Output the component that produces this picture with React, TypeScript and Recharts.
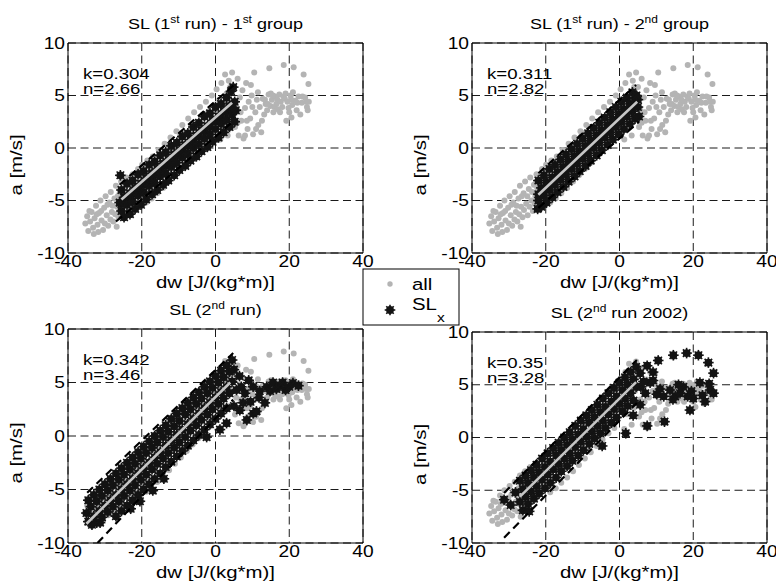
import React from 'react';
import { ScatterChart, Scatter, XAxis, YAxis, CartesianGrid, ReferenceArea } from 'recharts';

const FONT = '"Liberation Sans", Arial, Helvetica, sans-serif';
const GRAY = '#b4b4b4';
const FIT = '#c6c6c6';
const STAR = '#141414';
const SX = 1.2; // the figure text is drawn wide

const xTicks = [-40, -20, 0, 20, 40];
const yTicks = [-10, -5, 0, 5, 10];

// "all" points, identical in the four panels
const allPoints = [
  [-35.3, -7.2], [-34.8, -6.5], [-34.5, -7.9], [-34.0, -7.0], [-33.6, -6.1], [-33.2, -7.6], [-32.8, -6.7],
  [-32.4, -5.5], [-32.0, -7.3], [-31.6, -6.2], [-31.8, -8.0], [-31.2, -5.0], [-30.9, -6.9], [-30.5, -7.8],
  [-30.2, -5.7], [-29.8, -4.6], [-29.5, -6.4], [-29.1, -7.4], [-28.8, -5.2], [-28.4, -4.2], [-28.1, -6.1],
  [-27.7, -7.0], [-27.4, -4.8], [-27.0, -3.6], [-26.8, -7.5], [-26.7, -5.6], [-26.3, -6.6], [-26.0, -4.3],
  [-25.6, -3.2], [-25.3, -5.3], [-24.9, -6.4], [-24.6, -3.9], [-24.2, -2.8], [-23.9, -5.0], [-23.5, -6.0],
  [-23.2, -3.5], [-22.8, -4.6], [-22.5, -2.5], [-22.1, -5.5], [-21.8, -3.2], [-21.4, -4.2], [-21.0, -2.0],
  [-20.7, -5.1], [-20.3, -3.0],
  [-34.2, -6.0], [-33.0, -8.2], [-32.2, -6.3], [-31.0, -6.0], [-30.0, -7.2], [-29.3, -5.4], [-28.5, -6.8],
  [-27.9, -5.5], [-27.2, -6.3], [-26.5, -4.6], [-25.9, -5.9], [-25.0, -4.6], [-24.4, -5.6], [-23.7, -4.2],
  [-23.0, -5.3], [-22.3, -3.8], [-21.6, -5.0], [-21.2, -2.8], [-20.5, -4.0], [-20.0, -2.4],
  [-19.9, -1.6], [-19.5, -4.6], [-19.2, -2.7], [-18.8, -5.2], [-18.5, -1.2], [-18.1, -3.9], [-17.7, -2.3],
  [-17.3, -4.8], [-17.0, -0.8], [-16.6, -3.2], [-16.2, -1.6], [-15.8, -4.3], [-15.4, -0.2], [-15.0, -2.7],
  [-14.6, -1.0], [-14.2, -3.8], [-13.8, 0.4], [-13.4, -2.0], [-13.0, -0.4], [-12.6, -3.2], [-12.2, 1.0],
  [-11.8, -1.4], [-11.4, 0.2], [-11.0, -2.6], [-10.6, 1.6], [-10.2, -0.8], [-9.8, 0.8], [-9.4, -2.0],
  [-9.0, 2.2], [-8.6, -0.2], [-8.2, 1.4], [-7.8, -1.4], [-7.4, 2.8], [-7.0, 0.4], [-6.6, 2.0], [-6.2, -0.8],
  [-5.8, 3.4], [-5.4, 1.0], [-5.0, 2.5], [-4.6, -0.2], [-4.2, 3.9], [-3.8, 1.6], [-3.4, 3.0], [-3.0, 0.4],
  [-2.6, 4.4], [-2.2, 2.1], [-1.8, 3.5], [-1.4, 0.9], [-1.0, 5.0], [-0.6, 2.6], [-0.2, 4.0],
  [-19.0, -3.5], [-18.3, -4.5], [-17.5, -1.5], [-16.8, -2.6], [-16.0, -0.9], [-14.8, -1.9], [-13.2, -1.2],
  [-12.0, -0.2], [-10.8, 0.4], [-9.6, 1.4], [-8.4, -1.0], [-7.2, 1.2], [-6.0, 0.8], [-4.8, 1.8], [-3.6, 2.2],
  [-2.4, 3.0], [-1.2, 1.6], [0.0, 3.6], [1.2, 2.4], [2.8, 4.6], [4.0, 5.8],
  [0.3, 5.6], [0.6, 3.0], [1.0, 4.6], [1.3, 0.8], [1.6, 6.2], [2.0, 2.2], [2.3, 3.8], [2.6, 7.0], [3.0, 5.2],
  [3.3, 1.2], [3.6, 6.4], [3.9, 2.8], [4.2, 4.4], [4.5, 7.2], [5.0, 5.8], [5.3, 2.0], [5.6, 3.6], [6.0, 6.6],
  [6.3, 1.2], [6.6, 4.8], [7.0, 2.6], [7.3, 5.5], [7.6, 0.9], [8.0, 3.8], [8.3, 6.2], [8.7, 1.8], [9.0, 4.4],
  [9.4, 2.8], [9.8, 5.0], [10.0, 3.9], [10.2, 1.3], [10.5, 7.2], [10.8, 3.4], [11.2, 4.6], [11.5, 5.3],
  [11.6, 2.2], [12.0, 3.9], [12.4, 1.5], [12.8, 4.7], [13.2, 3.2], [13.6, 4.2], [14.0, 3.6], [14.4, 5.1],
  [14.6, 7.6], [14.9, 4.0], [15.0, 5.2], [15.3, 4.6], [15.7, 3.4], [16.0, 3.9], [16.1, 4.9], [16.5, 4.2],
  [16.9, 3.7], [17.3, 5.1], [17.7, 4.4], [18.1, 3.9], [18.4, 4.9], [18.5, 7.9], [18.8, 4.7], [19.2, 2.6],
  [19.5, 4.4], [20.0, 3.4], [20.4, 5.0], [20.8, 4.1], [21.0, 5.3], [21.2, 7.7], [21.6, 4.5], [22.0, 3.6],
  [22.5, 4.9], [23.0, 3.2], [23.4, 4.3], [23.9, 7.0], [24.3, 4.8], [24.8, 3.9], [25.2, 6.1], [25.3, 4.4],
  [6.8, 3.4], [8.5, 2.6], [9.6, 6.0], [11.0, 1.8], [12.6, 2.6], [13.4, 4.6], [14.2, 4.2], [15.6, 5.0],
  [16.8, 4.6], [17.5, 3.4], [19.0, 5.2], [19.8, 3.8], [20.6, 4.6], [22.2, 4.3], [23.6, 4.9], [24.6, 4.4],
  [25.0, 3.6], [20.6, 2.9], [8.0, 1.2], [6.0, 2.4],
];

// SL_x points, 1st run - 1st group
const slTL = [
  [-25.5, -4.0], [-24, -3.4], [-22.5, -3.1], [-21, -2.5], [-19.5, -2.2], [-18, -1.6], [-16.5, -1.3], [-15, -0.7],
  [-13.5, -0.4], [-12, 0.2], [-10.5, 0.5], [-9, 1.1], [-7.5, 1.4], [-6, 2.0], [-4.5, 2.4], [-3, 3.0], [-1.5, 3.3],
  [0, 3.9], [1.5, 4.2], [3, 4.8], [4.2, 5.4],
  [-24.8, -4.7], [-23.2, -4.3], [-21.8, -3.8], [-20.2, -3.4], [-18.8, -2.9], [-17.2, -2.4], [-15.8, -2.0],
  [-14.2, -1.5], [-12.8, -1.1], [-11.2, -0.6], [-9.8, -0.2], [-8.2, 0.3], [-6.8, 0.8], [-5.2, 1.2], [-3.8, 1.7],
  [-2.2, 2.1], [-0.8, 2.6], [0.8, 3.0], [2.2, 3.5], [3.8, 4.0], [5.2, 4.4],
  [-25.5, -5.3], [-24, -4.9], [-22.5, -4.4], [-21, -3.9], [-19.5, -3.5], [-18, -3.0], [-16.5, -2.6], [-15, -2.1],
  [-13.5, -1.7], [-12, -1.2], [-10.5, -0.7], [-9, -0.3], [-7.5, 0.2], [-6, 0.6], [-4.5, 1.1], [-3, 1.6],
  [-1.5, 2.0], [0, 2.5], [1.5, 2.9], [3, 3.4], [4.5, 3.8],
  [-25.5, -6.0], [-24, -5.4], [-22.5, -5.1], [-21, -4.5], [-19.5, -4.2], [-18, -3.6], [-16.5, -3.3], [-15, -2.7],
  [-13.5, -2.4], [-12, -1.8], [-10.5, -1.4], [-9, -0.9], [-7.5, -0.5], [-6, 0.0], [-4.5, 0.4], [-3, 0.9],
  [-1.5, 1.3], [0, 1.8], [1.5, 2.3], [3, 2.7], [4.5, 3.2],
  [-24.8, -6.6], [-23.2, -6.3], [-21.8, -5.8], [-20.2, -5.4], [-18.8, -4.9], [-17.2, -4.4], [-15.8, -4.0],
  [-14.2, -3.5], [-12.8, -3.1], [-11.2, -2.6], [-9.8, -2.1], [-8.2, -1.7], [-6.8, -1.2], [-5.2, -0.8],
  [-3.8, -0.3], [-2.2, 0.1], [-0.8, 0.6], [0.8, 1.0], [2.2, 1.5], [3.8, 2.0], [5.2, 2.5],
  [4.8, 5.8], [5.5, 3.6], [-26.0, -5.2], [-25.8, -2.6],
];

// SL_x points, 1st run - 2nd group
const slTR = [
  [-22, -3.1], [-20.5, -2.6], [-19, -2.0], [-17.5, -1.6], [-16, -1.1], [-14.5, -0.6], [-13, -0.1], [-11.5, 0.4],
  [-10, 0.9], [-8.5, 1.4], [-7, 1.9], [-5.5, 2.4], [-4, 2.9], [-2.5, 3.4], [-1, 3.9], [0.5, 4.4], [2, 4.8], [3.5, 5.3],
  [-21.2, -3.8], [-19.8, -3.3], [-18.2, -2.8], [-16.8, -2.3], [-15.2, -1.8], [-13.8, -1.3], [-12.2, -0.8],
  [-10.8, -0.3], [-9.2, 0.2], [-7.8, 0.7], [-6.2, 1.2], [-4.8, 1.7], [-3.2, 2.2], [-1.8, 2.7], [-0.2, 3.2],
  [1.2, 3.7], [2.8, 4.2], [4.2, 4.7],
  [-22, -4.4], [-20.5, -3.9], [-19, -3.4], [-17.5, -2.9], [-16, -2.4], [-14.5, -1.9], [-13, -1.4], [-11.5, -0.9],
  [-10, -0.4], [-8.5, 0.1], [-7, 0.6], [-5.5, 1.1], [-4, 1.6], [-2.5, 2.1], [-1, 2.6], [0.5, 3.1], [2, 3.6],
  [3.5, 4.1], [5, 4.6],
  [-22, -5.0], [-20.5, -4.5], [-19, -4.0], [-17.5, -3.5], [-16, -3.0], [-14.5, -2.5], [-13, -2.0], [-11.5, -1.5],
  [-10, -1.0], [-8.5, -0.5], [-7, 0.0], [-5.5, 0.5], [-4, 1.0], [-2.5, 1.5], [-1, 2.0], [0.5, 2.5], [2, 3.0],
  [3.5, 3.5], [5, 3.9],
  [-21.2, -5.6], [-19.8, -5.2], [-18.2, -4.7], [-16.8, -4.2], [-15.2, -3.7], [-13.8, -3.2], [-12.2, -2.7],
  [-10.8, -2.2], [-9.2, -1.7], [-7.8, -1.2], [-6.2, -0.7], [-4.8, -0.2], [-3.2, 0.3], [-1.8, 0.8], [-0.2, 1.3],
  [1.2, 1.8], [2.8, 2.3], [4.2, 2.8],
  [-22.2, -5.8], [5.3, 3.0], [4.6, 5.0],
];

// SL_x points, 2nd run
const slBL = [
  [-34.5, -6.0], [-33, -5.5], [-31.5, -5.0], [-30, -4.5], [-28.5, -4.0], [-27, -3.5], [-25.5, -3.0], [-24, -2.5],
  [-22.5, -2.0], [-21, -1.5], [-19.5, -1.0], [-18, -0.5], [-16.5, 0.0], [-15, 0.5], [-13.5, 1.0], [-12, 1.6],
  [-10.5, 2.1], [-9, 2.6], [-7.5, 3.1], [-6, 3.6], [-4.5, 4.1], [-3, 4.6], [-1.5, 5.1], [0, 5.6], [1.5, 6.1],
  [3, 6.6], [4.5, 7.1],
  [-33.8, -6.6], [-32.2, -6.1], [-30.8, -5.6], [-29.2, -5.1], [-27.8, -4.6], [-26.2, -4.1], [-24.8, -3.6],
  [-23.2, -3.1], [-21.8, -2.6], [-20.2, -2.1], [-18.8, -1.6], [-17.2, -1.1], [-15.8, -0.6], [-14.2, -0.1],
  [-12.8, 0.4], [-11.2, 0.9], [-9.8, 1.4], [-8.2, 2.0], [-6.8, 2.5], [-5.2, 3.0], [-3.8, 3.5], [-2.2, 4.0],
  [-0.8, 4.5], [0.8, 5.0], [2.2, 5.5], [3.8, 6.0],
  [-34.5, -8.0], [-33, -7.5], [-31.5, -7.0], [-30, -6.5], [-28.5, -6.0], [-27, -5.5], [-25.5, -5.0], [-24, -4.5],
  [-22.5, -4.0], [-21, -3.5], [-19.5, -3.0], [-18, -2.5], [-16.5, -2.0], [-15, -1.5], [-13.5, -0.9], [-12, -0.4],
  [-10.5, 0.1], [-9, 0.6], [-7.5, 1.1], [-6, 1.6], [-4.5, 2.1], [-3, 2.6], [-1.5, 3.1], [0, 3.6], [1.5, 4.1],
  [3, 4.6], [4.5, 5.1],
  [-32.2, -8.1], [-30.8, -7.6], [-29.2, -7.1], [-27.8, -6.6], [-26.2, -6.1], [-24.8, -5.6], [-23.2, -5.1],
  [-21.8, -4.6], [-20.2, -4.1], [-18.8, -3.6], [-17.2, -3.1], [-15.8, -2.6], [-14.2, -2.1], [-12.8, -1.6],
  [-11.2, -1.1], [-9.8, -0.6], [-8.2, -0.1], [-6.8, 0.5], [-5.2, 1.0], [-3.8, 1.5], [-2.2, 2.0], [-0.8, 2.5],
  [0.8, 3.0], [2.2, 3.5], [3.8, 4.0],
  [-27, -7.5], [-25.5, -7.0], [-24, -6.5], [-22.5, -6.0], [-21, -5.5], [-19.5, -5.0], [-18, -4.5], [-16.5, -4.0],
  [-15, -3.5], [-13.5, -2.9], [-12, -2.4], [-10.5, -1.9], [-9, -1.4], [-7.5, -0.9], [-6, -0.4], [-4.5, 0.1],
  [-3, 0.6], [-1.5, 1.1], [0, 1.6], [1.5, 2.1], [3, 2.6],
  [-35, -7.2], [-33.5, -8.3], [-31.3, -8.1], [-20.5, -6.1], [-23, -6.8], [-17, -5.1], [-14, -4.0],
  [5.7, 4.3], [6.5, 5.6], [7.5, 3.1], [6.6, 2.4], [8.5, 1.5], [10.2, 4.6], [10.2, 2.1], [11.1, 2.3], [13.4, 3.1],
  [13.9, 4.6], [15.6, 5.0], [17.4, 4.7], [19, 4.3], [21, 4.95], [22.5, 4.7], [5, 6.2], [8, 4.0], [9, 5.2],
  [12, 4.2], [14.8, 4.2], [16.5, 4.4], [18.2, 5.0], [20, 4.6], [1.2, 0.6], [-2.4, -0.1], [3, 1.2], [5, 2.8],
  [7, 4.6], [9.5, 3.2], [11.8, 3.6],
];

// SL_x points, 2nd run 2002
const slBR = [
  [-27, -4.1], [-25.5, -3.6], [-24, -3.1], [-22.5, -2.6], [-21, -2.0], [-19.5, -1.5], [-18, -1.0], [-16.5, -0.5],
  [-15, 0.0], [-13.5, 0.5], [-12, 1.1], [-10.5, 1.6], [-9, 2.1], [-7.5, 2.6], [-6, 3.1], [-4.5, 3.7], [-3, 4.2],
  [-1.5, 4.7], [0, 5.2], [1.5, 5.7], [3, 6.2], [4.5, 6.7],
  [-26.2, -4.9], [-24.8, -4.3], [-23.2, -3.8], [-21.8, -3.3], [-20.2, -2.8], [-18.8, -2.3], [-17.2, -1.7],
  [-15.8, -1.2], [-14.2, -0.7], [-12.8, -0.2], [-11.2, 0.3], [-9.8, 0.8], [-8.2, 1.4], [-6.8, 1.9], [-5.2, 2.4],
  [-3.8, 2.9], [-2.2, 3.4], [-0.8, 3.9], [0.8, 4.5], [2.2, 5.0], [3.8, 5.5],
  [-27, -6.1], [-25.5, -5.6], [-24, -5.1], [-22.5, -4.6], [-21, -4.0], [-19.5, -3.5], [-18, -3.0], [-16.5, -2.5],
  [-15, -2.0], [-13.5, -1.5], [-12, -0.9], [-10.5, -0.4], [-9, 0.1], [-7.5, 0.6], [-6, 1.1], [-4.5, 1.6],
  [-3, 2.2], [-1.5, 2.7], [0, 3.2], [1.5, 3.7], [3, 4.2], [4.5, 4.8],
  [-26.2, -6.9], [-24.8, -6.3], [-23.2, -5.8], [-21.8, -5.3], [-20.2, -4.8], [-18.8, -4.3], [-17.2, -3.8],
  [-15.8, -3.2], [-14.2, -2.7], [-12.8, -2.2], [-11.2, -1.7], [-9.8, -1.2], [-8.2, -0.6], [-6.8, -0.1],
  [-5.2, 0.4], [-3.8, 0.9], [-2.2, 1.4], [-0.8, 1.9], [0.8, 2.5], [2.2, 3.0], [3.8, 3.5],
  [-31.3, -5.9], [-29.5, -6.4], [-28.2, -5.2], [-24.5, -7.0], [-4.7, -0.8], [1.7, 0.4], [7.5, 1.1], [12.2, 1.5],
  [19.1, 2.6], [23.2, 3.4], [25.5, 4.2], [25.5, 6.1], [24.1, 7.1], [21.4, 7.8], [18.2, 8.0], [14.6, 7.8],
  [10.5, 7.3], [5.6, 6.1], [9.1, 6.2], [9.1, 5.4], [8.3, 5.2], [5.8, 4.8], [5.6, 3.1], [3.7, 2.1], [10.1, 4.1],
  [12, 3.9], [13.7, 4.5], [15.1, 3.9], [16.4, 4.2], [17.3, 4.8], [20, 3.7], [21.8, 5.2], [24.3, 5.1],
  [24.6, 4.5], [11, 4.6], [14.5, 3.6], [18.5, 3.9], [7, 4.2], [6.5, 5.3], [7.5, 6.8], [22.5, 4.0], [16, 5.0],
  [19.5, 4.4],
];

// fitted lines (grey) and the dashed bounds, as end points
const fitTL = [[-25.5, -4.9], [4.5, 4.3]];
const upperTL = [[-26, -3.5], [5, 6.0]];
const lowerTL = [[-27, -7.0], [5, 2.6]];
const fitTR = [[-22, -4.45], [4.8, 4.4]];
const upperTR = [[-22, -2.4], [4.5, 6.0]];
const lowerTR = [[-22, -5.7], [5.3, 2.5]];
const fitBL = [[-35, -8.2], [4, 5.0]];
const upperBL = [[-34.8, -5.3], [4.8, 7.75]];
const lowerBL = [[-32, -10], [4.8, 3.4]];
const fitBR = [[-27, -5.6], [4.5, 5.25]];
const upperBR = [[-31.3, -5.26], [4.7, 7.35]];
const lowerBR = [[-31.3, -9.5], [4.7, 3.27]];

const titles = [
  ['SL (1', 'st', ' run) - 1', 'st', ' group'],
  ['SL (1', 'st', ' run) - 2', 'nd', ' group'],
  ['SL (2', 'nd', ' run)'],
  ['SL (2', 'nd', ' run 2002)'],
];
const kValues = ['0.304', '0.311', '0.342', '0.35'];
const nValues = ['2.66', '2.82', '3.46', '3.28'];

const toXY = (pts: number[][]) => pts.map(([x, y]) => ({ x, y }));

const GrayDot = (p: any) => <circle cx={p.cx} cy={p.cy} r={3} fill={GRAY} />;
const Empty = () => <g />;

const StarMark = (p: any) => {
  const { cx, cy } = p;
  const r = 5.3;
  const d = r * 0.7071;
  return (
    <g stroke={STAR} strokeWidth={1.6}>
      <circle cx={cx} cy={cy} r={3.9} fill={STAR} stroke="none" />
      <line x1={cx - r} y1={cy} x2={cx + r} y2={cy} />
      <line x1={cx} y1={cy - r} x2={cx} y2={cy + r} />
      <line x1={cx - d} y1={cy - d} x2={cx + d} y2={cy + d} />
      <line x1={cx - d} y1={cy + d} x2={cx + d} y2={cy - d} />
    </g>
  );
};

const XTick = (p: any) => (
  <text transform={`translate(${p.x},${p.y + 14}) scale(${SX},1)`} textAnchor="middle" fontSize={16} fontFamily={FONT} fill="#000">
    {p.payload.value}
  </text>
);

const YTick = (p: any) => (
  <text transform={`translate(${p.x - 3},${p.y + 5.5}) scale(${SX},1)`} textAnchor="end" fontSize={16} fontFamily={FONT} fill="#000">
    {p.payload.value}
  </text>
);

const W = 388;
const H = 291;

const panels = [
  { left: 0, top: 0, plot: { x0: 68, y0: 43, x1: 363, y1: 253 }, sl: slTL, fit: fitTL, upper: upperTL, lower: lowerTL },
  { left: 388, top: 0, plot: { x0: 472, y0: 43, x1: 767, y1: 253 }, sl: slTR, fit: fitTR, upper: upperTR, lower: lowerTR },
  { left: 0, top: 291, plot: { x0: 68, y0: 329, x1: 363, y1: 543 }, sl: slBL, fit: fitBL, upper: upperBL, lower: lowerBL },
  { left: 388, top: 291, plot: { x0: 472, y0: 332, x1: 767, y1: 543 }, sl: slBR, fit: fitBR, upper: upperBR, lower: lowerBR },
];

const allData = toXY(allPoints);

function Panel({ cfg }: { cfg: any }) {
  const { left, top, plot } = cfg;
  // the axes take 1px each (an axis of size 0 is not drawn at all)
  const margin = { left: plot.x0 - left - 1, right: left + W - plot.x1, top: plot.y0 - top, bottom: top + H - plot.y1 - 1 };
  return (
    <div style={{ position: 'absolute', left, top, width: W, height: H }}>
      <ScatterChart width={W} height={H} margin={margin}>
        <CartesianGrid stroke="#000" strokeWidth={0.9} strokeDasharray="8 4.5" />
        <XAxis type="number" dataKey="x" domain={[-40, 40]} ticks={xTicks} interval={0} height={1}
          axisLine={false} tickLine={false} tickSize={0} tickMargin={0} tick={(p: any) => <XTick {...p} />} allowDataOverflow />
        <YAxis type="number" dataKey="y" domain={[-10, 10]} ticks={yTicks} interval={0} width={1}
          axisLine={false} tickLine={false} tickSize={0} tickMargin={0} tick={(p: any) => <YTick {...p} />} allowDataOverflow />
        <Scatter data={allData} shape={GrayDot} isAnimationActive={false} />
        <Scatter data={toXY(cfg.sl)} shape={StarMark} isAnimationActive={false} />
        <Scatter data={toXY(cfg.fit)} line={{ stroke: FIT, strokeWidth: 2.6 }} shape={Empty} isAnimationActive={false} />
        <Scatter data={toXY(cfg.upper)} line={{ stroke: '#000', strokeWidth: 2.2, strokeDasharray: '8 5' }} shape={Empty} isAnimationActive={false} />
        <Scatter data={toXY(cfg.lower)} line={{ stroke: '#000', strokeWidth: 2.2, strokeDasharray: '8 5' }} shape={Empty} isAnimationActive={false} />
        <ReferenceArea x1={-40} x2={40} y1={-10} y2={10} fill="none" stroke="#000" strokeWidth={1} />
      </ScatterChart>
    </div>
  );
}

function Title({ parts, x, y }: { parts: string[]; x: number; y: number }) {
  return (
    <text transform={`translate(${x},${y}) scale(${SX},1)`} textAnchor="middle" fontSize={15} style={{ whiteSpace: 'pre' }}>
      {parts.map((t, i) =>
        i % 2 === 1 ? (
          <tspan key={i} dy={-6} fontSize={10}>{t}</tspan>
        ) : (
          <tspan key={i} dy={i === 0 ? 0 : 6}>{t}</tspan>
        )
      )}
    </text>
  );
}

export default function App() {
  return (
    <div style={{ position: 'absolute', left: 0, top: 0, width: 776, height: 582, background: '#fff', fontFamily: FONT }}>
      {panels.map((p, i) => (
        <Panel key={i} cfg={p} />
      ))}
      <svg width={776} height={582} style={{ position: 'absolute', left: 0, top: 0, pointerEvents: 'none' }} fontFamily={FONT} fill="#000">
        {panels.map((p, i) => {
          const { x0, y0, x1, y1 } = p.plot;
          const cx = (x0 + x1) / 2;
          const cy = (y0 + y1) / 2;
          return (
            <g key={i}>
              <Title parts={titles[i]} x={cx} y={y0 - 14.5} />
              <text transform={`translate(${cx},${y1 + 35}) scale(${SX},1)`} textAnchor="middle" fontSize={17}>dw [J/(kg*m)]</text>
              <text transform={`translate(${x0 - 46},${cy + 17}) rotate(-90) scale(${SX},1)`} textAnchor="middle" fontSize={17}>a [m/s]</text>
              <text transform={`translate(${x0 + 15},${y0 + 36}) scale(${SX},1)`} fontSize={15.5}>k={kValues[i]}</text>
              <text transform={`translate(${x0 + 15},${y0 + 51}) scale(${SX},1)`} fontSize={15.5}>n={nValues[i]}</text>
            </g>
          );
        })}
        <g>
          <rect x={363} y={269} width={96} height={56} fill="#fff" stroke="#000" strokeWidth={1} />
          <circle cx={390} cy={284} r={2.7} fill={GRAY} />
          <text transform={`translate(412,290) scale(${SX},1)`} fontSize={17}>all</text>
          <StarMark cx={390} cy={310} />
          <text transform={`translate(412,310) scale(${SX},1)`} fontSize={17}>
            SL<tspan dy={12} fontSize={13}>x</tspan>
          </text>
        </g>
      </svg>
    </div>
  );
}
